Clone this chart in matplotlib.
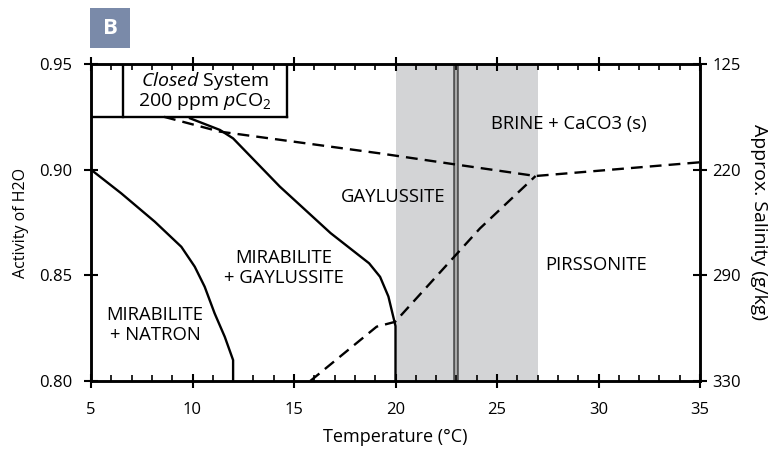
import matplotlib
matplotlib.use("Agg")
import matplotlib.pyplot as plt
from matplotlib.ticker import MultipleLocator, FixedLocator
from matplotlib.patches import Rectangle

plt.rcParams['font.family'] = ['Open Sans', 'DejaVu Sans']
plt.rcParams['mathtext.fontset'] = 'custom'
plt.rcParams['mathtext.rm'] = 'Open Sans'
plt.rcParams['mathtext.it'] = 'Open Sans:italic'

# --- data ---
natron_T = [5.0, 6.49, 8.14, 9.45, 10.11, 10.60, 11.09, 11.59, 12.0, 12.0]
natron_a = [0.900, 0.8888, 0.8754, 0.8635, 0.8541, 0.8446, 0.8320, 0.8209, 0.8099, 0.800]

gayl_T = [9.88, 11.35, 12.0, 14.3, 16.8, 18.7, 19.24, 19.65, 19.9, 20.0, 20.0]
gayl_a = [0.9243, 0.9188, 0.9148, 0.892, 0.870, 0.8557, 0.8493, 0.840, 0.830, 0.826, 0.800]

upper_dash_T = [8.6, 11.35, 19.24, 22.93, 26.9, 35.0]
upper_dash_a = [0.925, 0.918, 0.9077, 0.9025, 0.897, 0.9035]

lower_dash_T = [15.8, 19.07, 19.98, 24.16, 26.9]
lower_dash_a = [0.800, 0.8257, 0.828, 0.8722, 0.897]

shade_T = [20.0, 27.0]
line_T = 23.0

box_T = [5.0, 6.58, 14.66]
box_a = [0.925, 0.95]

y_ticks = [0.80, 0.85, 0.90, 0.95]
y_labels = ['0.80', '0.85', '0.90', '0.95']
sal_labels = ['330', '290', '220', '125']
x_ticks = [5, 10, 15, 20, 25, 30, 35]

labels = [
    ("MIRABILITE\n+ NATRON", 8.15, 0.8265),
    ("MIRABILITE\n+ GAYLUSSITE", 14.5, 0.8535),
    ("GAYLUSSITE", 19.88, 0.887),
    ("BRINE + CaCO3 (s)", 28.55, 0.9216),
    ("PIRSSONITE", 29.9, 0.855),
]

# --- figure ---
fig = plt.figure(figsize=(7.68, 4.49), dpi=100)
ax = fig.add_axes([91/768, 1-381/449, 609/768, 317/449])
ax.set_xlim(5, 35)
ax.set_ylim(0.80, 0.95)

ax.axvspan(shade_T[0], shade_T[1], color='#d3d4d6', lw=0, zorder=0)
ax.axvline(line_T, color='#4a4a4a', lw=4.0, zorder=1)
ax.axvline(line_T, color='#a8a8a8', lw=1.6, zorder=1.1)

lw = 1.7
ax.plot(natron_T, natron_a, color='black', lw=lw, zorder=3)
ax.plot(gayl_T, gayl_a, color='black', lw=lw, zorder=3)
ax.plot(upper_dash_T, upper_dash_a, color='black', lw=lw, dashes=(5, 3), zorder=3)
ax.plot(lower_dash_T, lower_dash_a, color='black', lw=lw, dashes=(5, 3), zorder=3)

# top-left box
ax.plot([box_T[0], box_T[2]], [box_a[0], box_a[0]], color='black', lw=lw, zorder=3)
ax.plot([box_T[1], box_T[1]], box_a, color='black', lw=lw, zorder=3)
ax.plot([box_T[2], box_T[2]], box_a, color='black', lw=lw, zorder=3)
ax.text((box_T[1]+box_T[2])/2, 0.9373, "$\\mathit{Closed}$ System\n200 ppm $\\mathit{p}$CO$_2$",
        ha='center', va='center', fontsize=14, linespacing=0.95, zorder=4)

for txt, x, y in labels:
    ax.text(x, y, txt, ha='center', va='center', fontsize=13.3, linespacing=1.1, zorder=4)

ax.set_xticks(x_ticks)
ax.xaxis.set_minor_locator(MultipleLocator(1))
ax.set_yticks(y_ticks)
ax.set_yticklabels(y_labels)
ax.tick_params(axis='x', which='major', direction='inout', length=10, width=1.5,
               labelsize=12, top=True, pad=10)
ax.tick_params(axis='x', which='minor', direction='in', length=4, width=1.2, top=True)
ax.tick_params(axis='y', which='major', direction='inout', length=10, width=1.5,
               labelsize=12, right=False, pad=8.5)
for s in ax.spines.values():
    s.set_linewidth(1.8)

ax.set_xlabel("Temperature (°C)", fontsize=13, labelpad=7)
ax.set_ylabel("Activity of H2O", fontsize=11.5, labelpad=7)

ax2 = ax.twinx()
ax2.set_ylim(ax.get_ylim())
ax2.yaxis.set_major_locator(FixedLocator(y_ticks))
ax2.set_yticklabels(sal_labels)
ax2.tick_params(axis='y', which='major', direction='inout', length=10, width=1.5,
                labelsize=12, pad=4)
for s in ax2.spines.values():
    s.set_linewidth(1.8)
ax2.set_ylabel("Approx. Salinity (g/kg)", fontsize=14, rotation=270, labelpad=19.5)

# panel label
fig.patches.append(Rectangle((90/768, 1-48/449), 40/768, 40/449, transform=fig.transFigure,
                             facecolor='#7a8aa9', edgecolor='none'))
fig.text(110/768, 1-28/449, "B", fontsize=16, fontweight='bold',
         color='white', ha='center', va='center')

fig.savefig("out.png", dpi=100)
